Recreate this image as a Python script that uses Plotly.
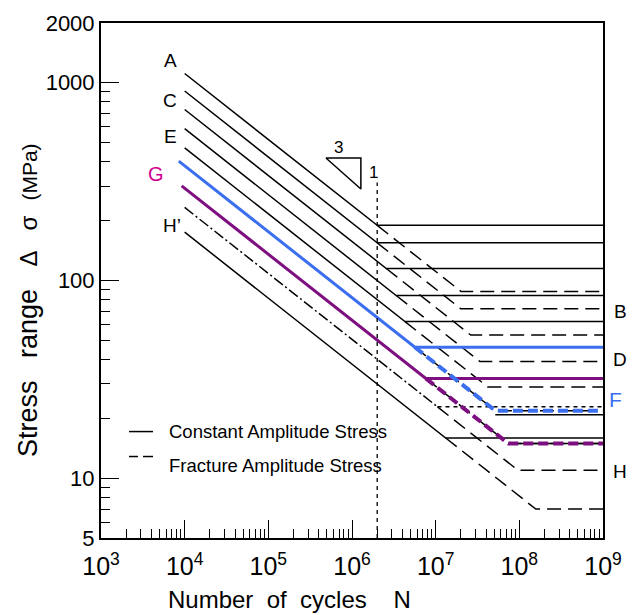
import plotly.graph_objects as go

# ---------------- data ----------------
classes = ["A", "B", "C", "D", "E", "F", "G", "H", "H'"]
stress_at_2e6 = [190, 155, 125, 100, 80, 65, 50, 40, 30]      # MPa at N = 2x10^6
const_amp_limit = [190, 155, 115, 84, 62, 46, 32, 23, 16]     # constant amplitude cut-off
var_amp_limit = [88, 72, 53, 39, 29, 22, 15, 11, 7]           # variable (fracture) amplitude cut-off
under_colour_limit = {"F": 21, "G": 15}                       # black base lines under coloured dashes
colour_start_N = {"F": 8.5e3, "G": 9.2e3}
N_ref = 2e6
N_start = 1e4
N_end = 1e9
slope_m = 3

x_tick_vals = [1e3, 1e4, 1e5, 1e6, 1e7, 1e8, 1e9]
x_tick_text = ["10<sup>%d</sup>" % e for e in range(3, 10)]
y_tick_vals = [5, 10, 100, 1000, 2000]
y_tick_text = ["5", "10", "100", "1000", "2000"]
x_minor = [k * 10 ** d for d in range(3, 9) for k in range(2, 10)]
y_minor = [6, 7, 8, 9] + [k * 10 for k in range(2, 10)] + [k * 100 for k in range(2, 10)]

tri_N = [4.88e5, 1.277e6, 1.277e6, 4.88e5]
tri_S = [416, 416, 290, 416]
ref_line_N = [2e6, 2e6]
ref_line_S = [5, 313]

BLUE = "#3b6ff0"
PURPLE = "#7d0f80"
MAGENTA = "#d1008f"
FONT = "Liberation Sans, Arial, sans-serif"


def S_at(s_ref, N):
    return s_ref * (N_ref / N) ** (1.0 / slope_m)


def N_at(s_ref, S):
    return N_ref * (s_ref / S) ** slope_m


fig = go.Figure()
LONG_DASH = "14px,7px"

for c, s2, sc, sv in zip(classes, stress_at_2e6, const_amp_limit, var_amp_limit):
    Nc = N_at(s2, sc)
    Nv = N_at(s2, sv)
    fig.add_trace(go.Scatter(x=[Nc, Nv, N_end], y=[sc, sv, sv], mode="lines",
                             line=dict(color="black", width=1.5, dash=LONG_DASH),
                             showlegend=False, hoverinfo="skip"))
    if c == "H":
        fig.add_trace(go.Scatter(x=[N_start, Nc], y=[S_at(s2, N_start), sc], mode="lines",
                                 line=dict(color="black", width=1.5, dash="11px,3px,2px,3px"),
                                 showlegend=False, hoverinfo="skip"))
        fig.add_trace(go.Scatter(x=[Nc, N_end], y=[sc, sc], mode="lines",
                                 line=dict(color="black", width=1.5, dash="4px,4px"),
                                 showlegend=False, hoverinfo="skip"))
    else:
        fig.add_trace(go.Scatter(x=[N_start, Nc, N_end], y=[S_at(s2, N_start), sc, sc], mode="lines",
                                 line=dict(color="black", width=1.5),
                                 showlegend=False, hoverinfo="skip"))

for c, col in (("G", PURPLE), ("F", BLUE)):
    i = classes.index(c)
    s2, sc, sv = stress_at_2e6[i], const_amp_limit[i], var_amp_limit[i]
    Nc = N_at(s2, sc)
    Nv = N_at(s2, sv)
    fig.add_trace(go.Scatter(x=[Nv, N_end], y=[under_colour_limit[c]] * 2, mode="lines",
                             line=dict(color="black", width=1.5),
                             showlegend=False, hoverinfo="skip"))
    N0 = colour_start_N[c]
    fig.add_trace(go.Scatter(x=[N0, Nc, N_end], y=[S_at(s2, N0), sc, sc], mode="lines",
                             line=dict(color=col, width=3),
                             showlegend=False, hoverinfo="skip"))
    fig.add_trace(go.Scatter(x=[Nc, Nv, N_end], y=[sc, sv, sv], mode="lines",
                             line=dict(color=col, width=4, dash="10px,5px"),
                             showlegend=False, hoverinfo="skip"))

fig.add_trace(go.Scatter(x=ref_line_N, y=ref_line_S, mode="lines",
                         line=dict(color="black", width=1.3, dash="4px,4px"),
                         showlegend=False, hoverinfo="skip"))
fig.add_trace(go.Scatter(x=tri_N, y=tri_S, mode="lines",
                         line=dict(color="black", width=1.5),
                         showlegend=False, hoverinfo="skip"))

# ---------------- layout helpers (page pixels; body margin of 8px) ----------------
OFF = 8
W, H = 640 - OFF, 615 - OFF
L, R, T, B = 101, 603, 22.5, 538.3


def px(xp):
    return (xp - L) / (R - L)


def py(yp):
    return (B - yp) / (B - T)


annotations = []


def ann(text, x, y, size=19, color="black", xanchor="center", angle=0):
    annotations.append(dict(text=text, x=px(x), y=py(y), xref="paper", yref="paper",
                            showarrow=False, xanchor=xanchor, yanchor="middle",
                            textangle=angle, font=dict(size=size, color=color, family=FONT)))


ann("A", 170, 60)
ann("C", 170, 100)
ann("E", 170, 136)
ann("G", 156, 174, color=MAGENTA, size=20)
ann("H\u2019", 172, 225)
ann("B", 620, 311)
ann("D", 620, 360)
ann("F", 615, 400, color=BLUE, size=21)
ann("H", 620, 472)
ann("3", 338, 147, size=17)
ann("1", 373, 172, size=17)
ann("Constant Amplitude Stress", 167, 432, size=18.5, xanchor="left")
ann("Fracture Amplitude Stress", 167, 466, size=18.5, xanchor="left")
ann("Number&nbsp;&nbsp;of&nbsp;&nbsp;cycles&nbsp;&nbsp;&nbsp;&nbsp;N", 289.5, 600, size=24)
ann("Stress&nbsp;&nbsp;&nbsp;range&nbsp;&nbsp;&nbsp;<span style='font-size:24px'>\u0394&nbsp;&nbsp;&nbsp;\u03c3</span>"
    "&nbsp;&nbsp;<span style='font-size:21px'>(MPa)</span>", 28, 300, size=27, angle=-90)

shapes = [
    dict(type="line", xref="paper", yref="paper", x0=px(129), x1=px(153), y0=py(431.7), y1=py(431.7),
         line=dict(color="black", width=1.5)),
    dict(type="line", xref="paper", yref="paper", x0=px(129), x1=px(138), y0=py(456.7), y1=py(456.7),
         line=dict(color="black", width=1.5)),
    dict(type="line", xref="paper", yref="paper", x0=px(143), x1=px(153), y0=py(456.7), y1=py(456.7),
         line=dict(color="black", width=1.5)),
]

axis_common = dict(type="log", showgrid=False, zeroline=False, showline=True, mirror=True,
                   automargin=False,
                   linecolor="black", linewidth=2, ticks="inside", ticklen=18, tickwidth=1,
                   tickcolor="black")

fig.update_layout(
    width=W, height=H,
    margin=dict(l=L - OFF, r=W - (R - OFF), t=T - OFF, b=H - (B - OFF)),
    plot_bgcolor="white", paper_bgcolor="white",
    xaxis=dict(range=[3, 9], tickmode="array", tickvals=x_tick_vals, ticktext=x_tick_text,
               tickfont=dict(size=25, family=FONT, color="black"), ticklabelstandoff=5,
               minor=dict(tickmode="array", tickvals=x_minor, ticks="inside", ticklen=9,
                          tickcolor="black", tickwidth=1, showgrid=False),
               **axis_common),
    yaxis=dict(range=[0.69897, 3.30103], tickmode="array", tickvals=y_tick_vals, ticktext=y_tick_text,
               tickfont=dict(size=22, family=FONT, color="black"),
               minor=dict(tickmode="array", tickvals=y_minor, ticks="inside", ticklen=9,
                          tickcolor="black", tickwidth=1, showgrid=False),
               **axis_common),
    annotations=annotations,
    shapes=shapes,
    showlegend=False,
)

fig.write_html("out.html")
